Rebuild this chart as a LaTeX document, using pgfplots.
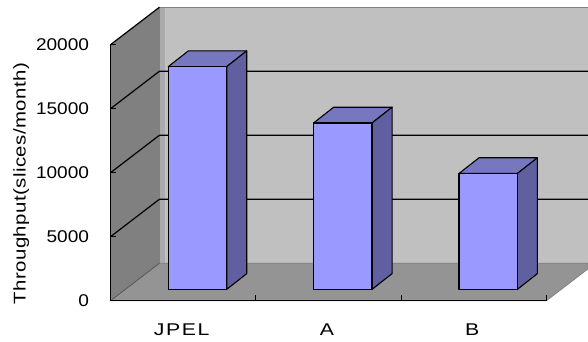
\documentclass[border=0pt]{standalone}
\usepackage{pgfplots}
\pgfplotsset{compat=1.18}
\usepackage{fontspec}
\setmainfont[FakeStretch=1.12]{Liberation Sans}
\newfontfamily\catfont[FakeStretch=1.25,LetterSpace=9]{Liberation Sans}
\newfontfamily\titlefont[FakeStretch=1.2,LetterSpace=2.5]{Liberation Sans}
\definecolor{sidewall}{HTML}{808080}
\definecolor{wallshade}{HTML}{ABABAB}
\definecolor{backwall}{HTML}{C0C0C0}
\definecolor{floorgray}{HTML}{949494}
\definecolor{barfront}{HTML}{9999FF}
\definecolor{bartop}{HTML}{7777C0}
\definecolor{barside}{HTML}{6060A0}

% One solid column: left edge of the front face, value
\newcommand\solidcolumn[2]{%
  \pgfmathsetmacro\xa{#1}%
  \pgfmathsetmacro\xb{#1+0.402}%
  \pgfmathsetmacro\xc{#1+0.402+0.1376}%
  \pgfmathsetmacro\xd{#1+0.1376}%
  \edef\ya{890}%
  \edef\yb{\the\numexpr890+#2\relax}%
  \edef\yc{\the\numexpr890+#2+1227\relax}%
  \edef\ye{\the\numexpr890+1227\relax}%
  \addplot[draw=black, line width=1.1pt, line join=round, fill=bartop] coordinates
    {(\xa,\yb) (\xb,\yb) (\xc,\yc) (\xd,\yc)} -- cycle;
  \addplot[draw=black, line width=1.1pt, line join=round, fill=barside] coordinates
    {(\xb,\ya) (\xc,\ye) (\xc,\yc) (\xb,\yb)} -- cycle;
  \addplot[draw=black, line width=1.4pt, line join=round, fill=barfront] coordinates
    {(\xa,\ya) (\xb,\ya) (\xb,\yb) (\xa,\yb)} -- cycle;
}

\begin{document}
\begin{tikzpicture}[x=1pt,y=1pt]
\path[use as bounding box] (-110.5,-40.3) rectangle (477.5,300.7);
\begin{axis}[
  at={(0,0)}, anchor=south west,
  scale only axis, width=436pt, height=256pt,
  xmin=0, xmax=3, ymin=0, ymax=20000,
  clip=false, axis on top,
  axis x line*=bottom, axis y line*=left,
  axis line style={line width=1.5pt, black, -},
  xtick={0.5,1.5,2.5},
  xticklabels={JPEL,A,B},
  minor xtick={1,2,3},
  ytick={0,5000,10000,15000,20000},
  scaled y ticks=false,
  major x tick style={draw=none},
  minor tick length=6pt,
  minor x tick style={line width=1pt, black},
  xtick align=inside, ytick align=inside,
  major tick length=5pt,
  y tick style={line width=1pt, black},
  /pgf/number format/1000 sep={},
  /pgf/number format/fixed,
  /pgf/number format/assume math mode=true,
  xticklabel style={font=\catfont\fontsize{17}{18}\selectfont, anchor=center, xshift=-1.5pt, yshift=-29pt},
  yticklabel style={font=\fontsize{17}{20}\selectfont, anchor=east, xshift=-18pt},
  ylabel={Throughput(slices/month)},
  ylabel style={font=\titlefont\fontsize{17}{20}\selectfont, at={(axis description cs:-0.2045,0.457)}, anchor=center},
]
% left wall
\addplot[draw=none, fill=sidewall] coordinates {(0,0) (0,20000) (0.337,22930) (0.337,2930)} -- cycle;
% back wall
\addplot[draw=sidewall, line width=0.9pt, fill=backwall] coordinates {(0.337,2930) (0.337,22930) (3.286,22930) (3.286,2930)} -- cycle;
% shaded strip where the back wall meets the left wall
\addplot[draw=none, fill=wallshade] coordinates {(0.340,2930) (0.340,22880) (0.378,22880) (0.378,2930)} -- cycle;
% floor
\addplot[draw=sidewall, line width=0.7pt, fill=floorgray] coordinates {(0,0) (3,0) (3.286,2487) (3.286,2930) (0.337,2930)} -- cycle;
% gridlines along the left wall and the back wall
\addplot[black, line width=1.2pt] coordinates {(0,5000) (0.337,7930) (3.286,7930)};
\addplot[black, line width=1.2pt] coordinates {(0,10000) (0.337,12930) (3.286,12930)};
\addplot[black, line width=1.2pt] coordinates {(0,15000) (0.337,17930) (3.286,17930)};
\addplot[black, line width=1.2pt] coordinates {(0,20000) (0.337,22930)};
\addplot[sidewall!70!black, line width=0.8pt] coordinates {(0,0) (0.337,2930)};
% columns
\solidcolumn{0.398}{17400}
\solidcolumn{1.398}{13000}
\solidcolumn{2.398}{9050}
\end{axis}
\end{tikzpicture}
\end{document}
